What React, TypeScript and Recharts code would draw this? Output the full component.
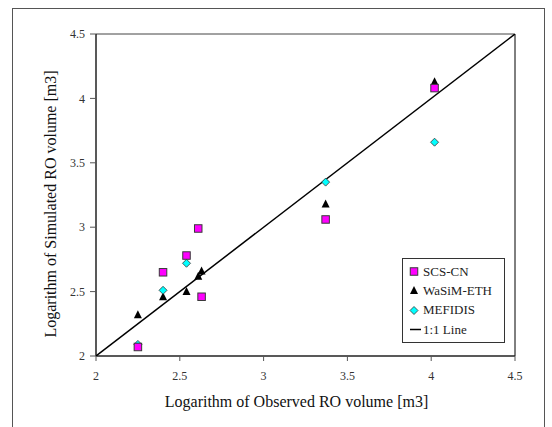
import { ScatterChart, Scatter, XAxis, YAxis, ReferenceLine } from "recharts"

const observed = [2.25, 2.4, 2.54, 2.61, 2.63, 3.37, 4.02]
const scsCn = [2.07, 2.65, 2.78, 2.99, 2.46, 3.06, 4.08]
const wasimEth = [2.32, 2.46, 2.5, 2.62, 2.66, 3.18, 4.13]
const mefidisObserved = [2.25, 2.4, 2.54, 3.37, 4.02]
const mefidis = [2.09, 2.51, 2.72, 3.35, 3.66]
const oneToOne = [2, 4.5]
const ticks = [2, 2.5, 3, 3.5, 4, 4.5]

const toPoints = (xs: number[], ys: number[]) => xs.map((x, i) => ({ x, y: ys[i] }))

const scsData = toPoints(observed, scsCn)
const wasimData = toPoints(observed, wasimEth)
const mefidisData = toPoints(mefidisObserved, mefidis)
const lineData = toPoints(oneToOne, oneToOne)

const FONT = "'Liberation Serif', 'Times New Roman', serif"

const Square = (p: any) => (
  <rect x={p.cx - 3.75} y={p.cy - 3.75} width={7.5} height={7.5} fill="#FF00FF" stroke="#3a3a3a" strokeWidth={1} />
)
const Triangle = (p: any) => (
  <polygon points={`${p.cx},${p.cy - 4.5} ${p.cx + 4},${p.cy + 3.5} ${p.cx - 4},${p.cy + 3.5}`} fill="#000" />
)
const Diamond = (p: any) => (
  <polygon
    points={`${p.cx},${p.cy - 4} ${p.cx + 4},${p.cy} ${p.cx},${p.cy + 4} ${p.cx - 4},${p.cy}`}
    fill="#00FFFF"
    stroke="#333"
    strokeWidth={0.8}
  />
)

const legendItems = [
  { name: "SCS-CN", Icon: Square },
  { name: "WaSiM-ETH", Icon: Triangle },
  { name: "MEFIDIS", Icon: Diamond },
]

// legend box drawn as plain html over the plot, so it doesn't take space from the chart
function LegendBox() {
  const row = (i: number) => ({
    position: "absolute" as const,
    left: 0,
    top: 3 + i * 19.4,
    height: 19,
    display: "flex",
    alignItems: "center",
    whiteSpace: "nowrap" as const,
  })
  return (
    <div
      style={{
        position: "absolute",
        left: 402,
        top: 258,
        width: 101,
        height: 83,
        border: "1px solid #333",
        background: "#fff",
        fontFamily: FONT,
        fontSize: 13,
        color: "#222",
      }}
    >
      {legendItems.map(({ name, Icon }, i) => (
        <div key={name} style={row(i)}>
          <svg width={20} height={19} style={{ display: "block" }}>
            <Icon cx={11} cy={9.5} />
          </svg>
          <span>{name}</span>
        </div>
      ))}
      <div style={row(3)}>
        <svg width={20} height={19} style={{ display: "block" }}>
          <line x1={7} x2={18} y1={9.5} y2={9.5} stroke="#000" strokeWidth={1.5} />
        </svg>
        <span>1:1 Line</span>
      </div>
    </div>
  )
}

export default function App() {
  return (
    <div style={{ position: "absolute", left: 0, top: 0, width: 552, height: 427, overflow: "hidden", background: "#fff", fontFamily: FONT }}>
      <div style={{ position: "absolute", left: 12, top: 8, width: 531, height: 440, border: "1px solid #555" }} />
      <div style={{ position: "absolute", left: 0, top: 0 }}>
        <ScatterChart width={552} height={427} margin={{ top: 34, right: 37, bottom: 0, left: 0 }}>
          <XAxis
            type="number"
            dataKey="x"
            domain={[2, 4.5]}
            ticks={ticks}
            height={71}
            tickSize={5}
            tickMargin={10}
            tick={{ fontSize: 12, fill: "#333", fontFamily: FONT }}
            axisLine={{ stroke: "#222", strokeWidth: 1.5 }}
            tickLine={{ stroke: "#555" }}
            allowDataOverflow
            label={{
              value: "Logarithm of Observed RO volume [m3]",
              position: "insideBottom",
              offset: 20,
              dx: -9,
              fill: "#111",
              fontSize: 16,
              fontFamily: FONT,
            }}
          />
          <YAxis
            type="number"
            dataKey="y"
            domain={[2, 4.5]}
            ticks={ticks}
            width={96}
            tickSize={6}
            tickMargin={5}
            tick={{ fontSize: 12, fill: "#333", fontFamily: FONT }}
            axisLine={{ stroke: "#222", strokeWidth: 1.5 }}
            tickLine={{ stroke: "#555" }}
            allowDataOverflow
            label={{
              content: () => (
                <text
                  x={56}
                  y={204}
                  transform="rotate(-90 56 204)"
                  textAnchor="middle"
                  fontSize={16}
                  fontFamily={FONT}
                  fill="#111"
                >
                  Logarithm of Simulated RO volume [m3]
                </text>
              ),
            }}
          />
          <ReferenceLine y={4.5} stroke="#444" strokeWidth={1} />
          <ReferenceLine x={4.5} stroke="#000" strokeWidth={1} />
          <Scatter data={lineData} line={{ stroke: "#000", strokeWidth: 1.5 }} shape={() => <g />} legendType="none" isAnimationActive={false} />
          <Scatter name="WaSiM-ETH" data={wasimData} shape={Triangle} isAnimationActive={false} />
          <Scatter name="MEFIDIS" data={mefidisData} shape={Diamond} isAnimationActive={false} />
          <Scatter name="SCS-CN" data={scsData} shape={Square} isAnimationActive={false} />
        </ScatterChart>
      </div>
      <LegendBox />
    </div>
  )
}
